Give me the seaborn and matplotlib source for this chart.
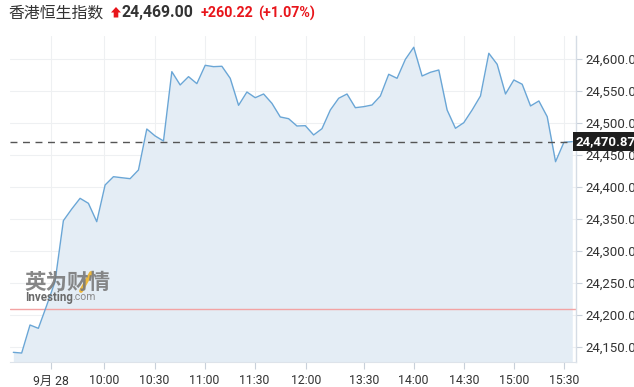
import numpy as np
import pandas as pd
import matplotlib
matplotlib.use("Agg")
import matplotlib.pyplot as plt
import seaborn as sns
from matplotlib.patches import Polygon
from matplotlib.lines import Line2D

# ---------------- data ----------------
title_name = "香港恒生指数"
last_price = "24,469.00"
change_abs = "+260.22"
change_pct = "(+1.07%)"

values = [
    24141.7, 24140.6, 24184.4, 24179.2, 24215.0, 24252.0, 24347.4, 24365.6,
    24382.3, 24374.5, 24345.8, 24403.1, 24416.1, 24414.5, 24413.0, 24426.6,
    24490.6, 24479.7, 24471.9, 24580.2, 24559.4, 24572.4, 24561.5, 24590.1,
    24588.0, 24588.6, 24569.8, 24527.6, 24548.4, 24539.5, 24545.3, 24530.7,
    24509.4, 24506.7, 24495.3, 24495.8, 24481.3, 24491.1, 24520.3, 24538.6,
    24545.3, 24523.9, 24525.5, 24528.1, 24542.2, 24576.1, 24569.8, 24599.5,
    24618.3, 24573.4, 24579.2, 24582.8, 24520.3, 24491.7, 24500.5, 24520.3,
    24542.2, 24608.9, 24591.7, 24545.3, 24567.2, 24560.5, 24526.6, 24534.4,
    24509.8, 24439.5, 24469.8, 24470.87,
]
prev_close = 24208.78
current_marker = 24470.87

x_tick_labels = ["9月 28", "10:00", "10:30", "11:00", "11:30", "12:00",
                 "13:30", "14:00", "14:30", "15:00", "15:30"]
y_ticks = [24150, 24200, 24250, 24300, 24350, 24400, 24450, 24500, 24550, 24600]

# ---------------- layout ----------------
x_tick_pos = [4.49, 10.92, 16.93, 22.93, 28.93, 35.05, 42.0, 48.0, 54.0, 60.0, 66.0]

df = pd.DataFrame({"idx": np.arange(len(values)), "price": values})

sns.set_theme(style="white")
plt.rcParams["font.family"] = ["Roboto", "Noto Sans CJK SC", "DejaVu Sans"]

W, H = 634, 387
fig = plt.figure(figsize=(W / 100, H / 100), dpi=100)
ax = fig.add_axes([10 / W, (H - 362) / H, (576 - 10) / W, (362 - 36) / H])

ymin, ymax = 24126.6, 24635.9
ax.set_ylim(ymin, ymax)
ax.set_xlim(-0.4, 67.45)

ax.fill_between(df["idx"], df["price"], ymin, color="#e4edf5", zorder=1, linewidth=0)
sns.lineplot(data=df, x="idx", y="price", ax=ax, color="#6aa6d6", linewidth=1.0, zorder=3)

# grid
for y in y_ticks:
    ax.axhline(y, color="#eef0f2", linewidth=0.8, zorder=0.5)
for xp in x_tick_pos:
    ax.axvline(xp, color="#eef0f2", linewidth=0.8, zorder=0.5)

ax.axhline(prev_close, color="#f3a3a3", linewidth=1.0, zorder=2)
ax.axhline(current_marker, color="#555555", linewidth=1.0, dashes=(5, 4), zorder=4)

ax.yaxis.tick_right()
ax.set_yticks(y_ticks)
ax.set_yticklabels([f"{v:,.2f}" for v in y_ticks])
ax.set_xticks(x_tick_pos)
ax.set_xticklabels(x_tick_labels)
ax.tick_params(axis="y", which="both", right=True, length=4, width=0.8, color="#c8d0da",
               labelsize=9.5, labelcolor="#333333", pad=3)
ax.tick_params(axis="x", which="both", bottom=True, length=5, width=0.8, color="#c8d0da",
               labelsize=8.8, labelcolor="#333333", pad=4)
ax.set_xlabel("")
ax.set_ylabel("")
for s in ["top", "left"]:
    ax.spines[s].set_visible(False)
ax.spines["bottom"].set_color("#dde3ea")
ax.spines["bottom"].set_linewidth(0.8)
ax.spines["right"].set_color("#d5dce5")
ax.spines["right"].set_linewidth(1.0)

# current price label box
ax.text(1.0, current_marker, f"{current_marker:,.2f}", transform=ax.get_yaxis_transform(),
        ha="left", va="center", color="white", fontsize=9.5, fontweight="bold",
        bbox=dict(boxstyle="square,pad=0.22", facecolor="#1e1e1e", edgecolor="none"),
        zorder=10, clip_on=False)

# ---------------- header ----------------
def fx(px):
    return px / W

def fy(py):
    return 1 - py / H

fig.text(fx(8), fy(13), title_name, fontsize=11.4, color="#333333", va="center", ha="left",
         family=["Noto Sans CJK SC", "DejaVu Sans"])
arrow = Polygon([(fx(111), fy(12.5)), (fx(116), fy(7)), (fx(121), fy(12.5)),
                 (fx(118.3), fy(12.5)), (fx(118.3), fy(17.5)), (fx(113.7), fy(17.5)),
                 (fx(113.7), fy(12.5))], closed=True, transform=fig.transFigure,
                facecolor="#e8151b", edgecolor="none")
fig.patches.append(arrow)
fig.text(fx(122), fy(13), last_price, fontsize=11.4, fontweight="bold", color="#333333",
         va="center", ha="left")
fig.text(fx(201), fy(13), change_abs, fontsize=10.3, fontweight="bold", color="#e8151b",
         va="center", ha="left")
fig.text(fx(258), fy(13), change_pct, fontsize=10.3, fontweight="bold", color="#e8151b",
         va="center", ha="left")

# ---------------- watermark ----------------
fig.text(fx(24), fy(282), "英为财情", fontsize=15.5, fontweight="bold", color="#7a7a7a",
         va="center", ha="left", alpha=0.9, family=["Noto Sans CJK SC"])
fig.lines.append(Line2D([fx(81), fx(91)], [fy(291), fy(273)], transform=fig.transFigure,
                        color="#f0b429", linewidth=2.8, alpha=0.9))
fig.text(fx(25), fy(297), "Investing", fontsize=8.3, fontweight="bold", color="#6a6a6a",
         va="center", ha="left")
fig.text(fx(72.5), fy(297.5), ".com", fontsize=7.5, color="#8a8a8a", va="center", ha="left")

fig.savefig("out.png", dpi=100)
